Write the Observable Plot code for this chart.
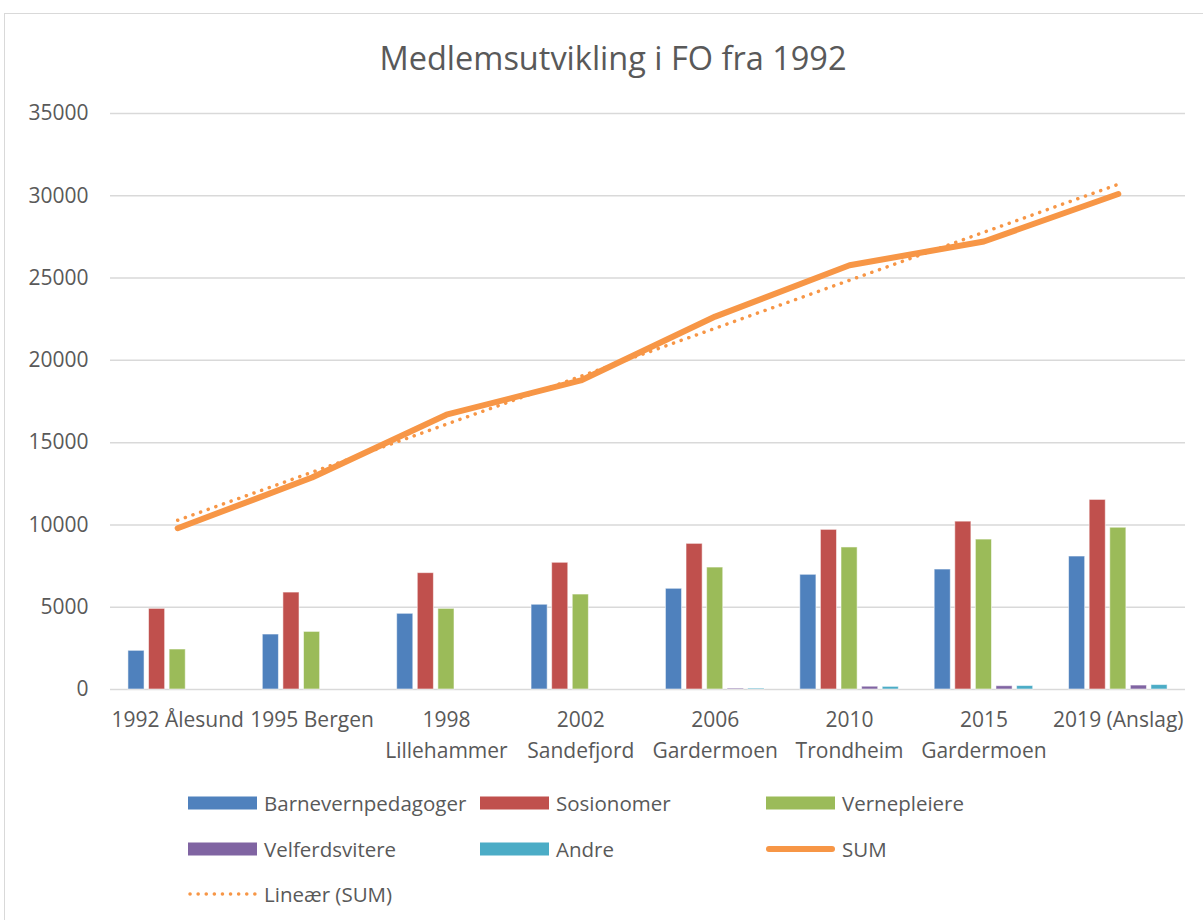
<!DOCTYPE html>
<html>
<head>
<meta charset="utf-8">
<script src="https://cdn.jsdelivr.net/npm/d3@7"></script>
<script src="https://cdn.jsdelivr.net/npm/@observablehq/plot@0.6"></script>
<style>
  html, body { margin: 0; padding: 0; background: #fff; overflow: hidden; }
  #page { position: relative; width: 1203px; height: 920px; font-family: "Open Sans", sans-serif; color: #595959; }
  #frame { position: absolute; left: 4px; top: 13px; width: 1230px; height: 1000px; border: 1.5px solid #d9d9d9; box-sizing: border-box; }
  #title { position: absolute; left: 0; width: 1226px; top: 35px; text-align: center; font-size: 32.5px; font-weight: 400; color: #595959; }
  #chart { position: absolute; left: 0; top: 90px; }
  #legend { position: absolute; left: 188px; top: 791px; display: grid; grid-template-columns: 292px 286px 300px; row-gap: 21.5px; font-size: 20.5px; color: #595959; }
  .item { display: flex; align-items: center; height: 24px; }
  .item svg { margin-right: 7px; flex: none; }
</style>
</head>
<body>
<div id="page">
  <div id="frame"></div>
  <div id="title">Medlemsutvikling i FO fra 1992</div>
  <div id="chart"></div>
  <div id="legend"></div>
</div>
<script>
const categories = ["1992 Ålesund", "1995 Bergen", "1998\nLillehammer", "2002\nSandefjord", "2006\nGardermoen", "2010\nTrondheim", "2015\nGardermoen", "2019 (Anslag)"];
const seriesNames = ["Barnevernpedagoger", "Sosionomer", "Vernepleiere", "Velferdsvitere", "Andre"];
const seriesColors = ["#4f81bd", "#c0504d", "#9bbb59", "#8064a2", "#4bacc6"];
const barnevernpedagoger = [2350, 3340, 4600, 5150, 6120, 6970, 7290, 8080];
const sosionomer = [4900, 5890, 7070, 7700, 8850, 9700, 10200, 11520];
const vernepleiere = [2430, 3500, 4900, 5770, 7410, 8630, 9110, 9830];
const velferdsvitere = [0, 0, 0, 0, 60, 170, 200, 240];
const andre = [0, 0, 0, 0, 60, 160, 210, 270];
const sum = [9800, 12880, 16700, 18780, 22660, 25780, 27220, 30110];
const yTicks = [0, 5000, 10000, 15000, 20000, 25000, 30000, 35000];
const sumColor = "#f79646";

const seriesValues = [barnevernpedagoger, sosionomer, vernepleiere, velferdsvitere, andre];
const bars = [];
seriesValues.forEach((vals, k) => vals.forEach((v, i) => bars.push({i, k, series: seriesNames[k], value: v})));
const sumData = sum.map((v, i) => ({i, value: v}));

// linear trend of SUM (least squares over category index)
const n = sum.length;
const mx = d3.mean(d3.range(n)), my = d3.mean(sum);
const slope = d3.sum(d3.range(n), i => (i - mx) * (sum[i] - my)) / d3.sum(d3.range(n), i => (i - mx) ** 2);
const icpt = my - slope * mx;
const trend = [0, n - 1].map(i => ({i, value: icpt + slope * i}));

const STEP = 0.1533, W = 0.12;
const chart = Plot.plot({
  width: 1203,
  height: 685,
  marginLeft: 110,
  marginRight: 18,
  marginTop: 23,
  marginBottom: 86,
  style: {fontFamily: "Open Sans, sans-serif", color: "#595959", background: "transparent"},
  x: {type: "linear", domain: [-0.5, n - 0.5], axis: null, label: null},
  y: {domain: [0, 35000], axis: null, label: null},
  color: {domain: seriesNames, range: seriesColors},
  marks: [
    Plot.ruleY(yTicks, {stroke: "#d9d9d9", strokeWidth: 1.5}),
    Plot.axisY(yTicks, {tickSize: 0, tickPadding: 22, fontSize: 21, tickFormat: d => String(d), fill: "#595959", label: null}),
    Plot.axisX(d3.range(n), {tickSize: 0, tickPadding: 16, fontSize: 21, lineHeight: 1.45, tickFormat: i => categories[i], fill: "#595959", label: null}),
    Plot.rectY(bars, {
      x1: d => d.i + (d.k - 2) * STEP - W / 2,
      x2: d => d.i + (d.k - 2) * STEP + W / 2,
      y: "value",
      fill: "series",
      stroke: "white",
      strokeOpacity: 0.55,
      strokeWidth: 1
    }),
    Plot.line(trend, {x: "i", y: "value", stroke: sumColor, strokeWidth: 3.5, strokeDasharray: "0.1 8", strokeLinecap: "round"}),
    Plot.line(sumData, {x: "i", y: "value", stroke: sumColor, strokeWidth: 6, strokeLinecap: "round", strokeLinejoin: "round"})
  ]
});
document.getElementById("chart").appendChild(chart);

// legend
const legendItems = [
  ...seriesNames.slice(0, 3).map((s, k) => ({label: s, type: "rect", color: seriesColors[k]})),
  ...seriesNames.slice(3).map((s, k) => ({label: s, type: "rect", color: seriesColors[k + 3]})),
  {label: "SUM", type: "line", color: sumColor},
  {label: "Lineær (SUM)", type: "dots", color: sumColor}
];
const legend = document.getElementById("legend");
for (const it of legendItems) {
  const div = document.createElement("div");
  div.className = "item";
  let sw;
  if (it.type === "rect") sw = `<svg width="69" height="14"><rect x="0" y="0.5" width="69" height="13" fill="${it.color}"/></svg>`;
  else if (it.type === "line") sw = `<svg width="69" height="14"><line x1="3" x2="66" y1="7" y2="7" stroke="${it.color}" stroke-width="6" stroke-linecap="round"/></svg>`;
  else sw = `<svg width="69" height="14"><line x1="2" x2="68" y1="7" y2="7" stroke="${it.color}" stroke-width="3.5" stroke-dasharray="0.1 8" stroke-linecap="round"/></svg>`;
  div.innerHTML = sw + `<span>${it.label}</span>`;
  legend.appendChild(div);
}
</script>
</body>
</html>
